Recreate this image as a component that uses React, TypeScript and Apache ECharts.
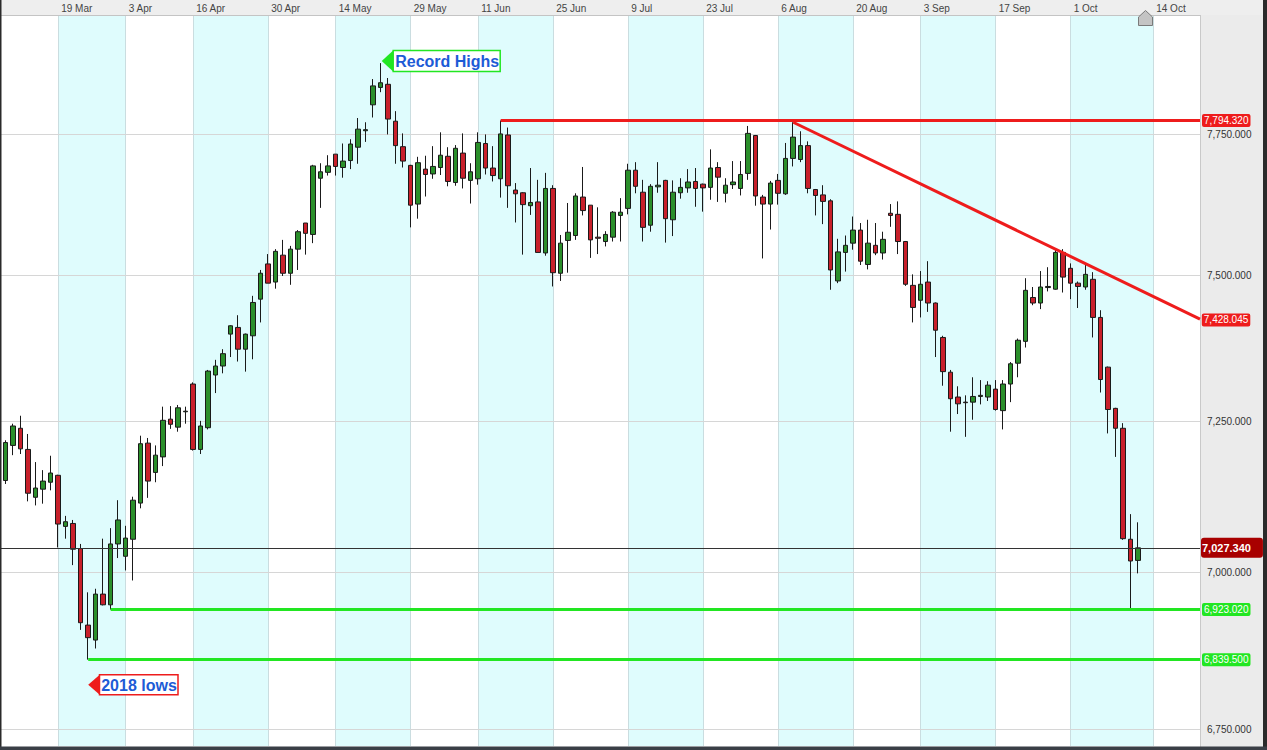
import React, { useEffect, useRef } from 'react';
import * as echarts from 'echarts';

// ---- trading-day slots (last ones after 12 Oct are future calendar slots) ----
const marDays = [8, 9, 12, 13, 14, 15, 16, 19, 20, 21, 22, 23, 26, 27, 28, 29];
const aprDays = [3, 4, 5, 6, 9, 10, 11, 12, 13, 16, 17, 18, 19, 20, 23, 24, 25, 26, 27, 30];
const mayDays = [1, 2, 3, 4, 8, 9, 10, 11, 14, 15, 16, 17, 18, 21, 22, 23, 24, 25, 29, 30, 31];
const junDays = [1, 4, 5, 6, 7, 8, 11, 12, 13, 14, 15, 18, 19, 20, 21, 22, 25, 26, 27, 28, 29];
const julDays = [2, 3, 4, 5, 6, 9, 10, 11, 12, 13, 16, 17, 18, 19, 20, 23, 24, 25, 26, 27, 30, 31];
const augDays = [1, 2, 3, 6, 7, 8, 9, 10, 13, 14, 15, 16, 17, 20, 21, 22, 23, 24, 28, 29, 30, 31];
const sepDays = [3, 4, 5, 6, 7, 10, 11, 12, 13, 14, 17, 18, 19, 20, 21, 24, 25, 26, 27, 28];
const octDays = [1, 2, 3, 4, 5, 8, 9, 10, 11, 12, 13, 14, 15, 16, 17, 18, 19, 20];

const monthBlocks: [string, number[]][] = [
  ['Mar', marDays], ['Apr', aprDays], ['May', mayDays], ['Jun', junDays],
  ['Jul', julDays], ['Aug', augDays], ['Sep', sepDays], ['Oct', octDays],
];
const slotLabels: string[] = monthBlocks.flatMap(([m, ds]) => ds.map((d) => `${d} ${m}`));

const tickLabels = ['19 Mar', '3 Apr', '16 Apr', '30 Apr', '14 May', '29 May', '11 Jun', '25 Jun',
  '9 Jul', '23 Jul', '6 Aug', '20 Aug', '3 Sep', '17 Sep', '1 Oct', '14 Oct'];
const gridTicks = [7750, 7500, 7250, 7000, 6750];

// ---- OHLC ----
const opens = [
  7143, 7204, 7234, 7197, 7114, 7128, 7140, 7152, 7064, 7069,
  7026, 6897, 6872, 6949, 6931, 7034, 7013, 7042, 7104, 7208,
  7157, 7184, 7250, 7236, 7263, 7312, 7197, 7235, 7328, 7344,
  7401, 7413, 7374, 7398, 7464, 7528, 7495, 7544, 7511, 7555,
  7603, 7582, 7686, 7697, 7731, 7706, 7719, 7744, 7775, 7824,
  7857, 7863, 7793, 7745, 7710, 7638, 7703, 7694, 7706, 7727,
  7678, 7733, 7682, 7685, 7751, 7705, 7685, 7767, 7664, 7659,
  7635, 7642, 7548, 7667, 7511, 7571, 7580, 7651, 7636, 7577,
  7569, 7577, 7617, 7630, 7701, 7660, 7599, 7670, 7682, 7609,
  7659, 7668, 7680, 7675, 7669, 7706, 7658, 7674, 7667, 7695,
  7766, 7651, 7638, 7682, 7657, 7723, 7721, 7747, 7665, 7655,
  7644, 7497, 7549, 7566, 7590, 7527, 7562, 7548, 7621, 7619,
  7569, 7489, 7462, 7495, 7457, 7395, 7333, 7289, 7280, 7280,
  7290, 7289, 7303, 7265, 7312, 7349, 7388, 7467, 7457, 7485,
  7482, 7549, 7520, 7493, 7486, 7500, 7431, 7342, 7269, 7234,
  7042, 7006,
];
const highs = [
  7213, 7242, 7256, 7224, 7175, 7161, 7186, 7153, 7082, 7075,
  7034, 6952, 6958, 7043, 7061, 7109, 7065, 7115, 7221, 7217,
  7204, 7272, 7273, 7275, 7272, 7315, 7247, 7337, 7355, 7374,
  7417, 7435, 7402, 7470, 7517, 7546, 7555, 7572, 7561, 7590,
  7603, 7711, 7714, 7729, 7731, 7751, 7759, 7799, 7791, 7873,
  7903.5, 7875, 7812, 7770, 7711, 7726, 7728, 7746, 7772, 7744,
  7748, 7770, 7714, 7772, 7768, 7746, 7794.32, 7781, 7677, 7660,
  7705, 7683, 7696, 7673, 7581, 7640, 7658, 7707, 7636, 7632,
  7588, 7625, 7649, 7713, 7716, 7683, 7675, 7716, 7683, 7682,
  7686, 7703, 7705, 7676, 7740, 7716, 7686, 7718, 7718, 7784,
  7767, 7655, 7681, 7694, 7752, 7791, 7774, 7755, 7666, 7673,
  7647, 7574, 7580, 7615, 7603, 7609, 7603, 7587, 7638, 7643,
  7570, 7509, 7515, 7533, 7458, 7398, 7337, 7308, 7292, 7324,
  7319, 7317, 7319, 7319, 7351, 7393, 7502, 7486, 7515, 7522,
  7555, 7555, 7529, 7496, 7529, 7513, 7444, 7343, 7270, 7243,
  7085, 7071,
];
const lows = [
  7137, 7187, 7189, 7107, 7100, 7103, 7126, 7028, 7043, 6998,
  6889, 6839.5, 6858, 6930, 6923.02, 7010, 6989, 6972, 7095, 7113,
  7140, 7168, 7233, 7228, 7242, 7195, 7189, 7232, 7296, 7331,
  7360, 7352, 7334, 7356, 7422, 7493, 7483, 7506, 7490, 7517,
  7545, 7566, 7631, 7691, 7691, 7687, 7703, 7713, 7754, 7800,
  7848, 7768, 7713, 7706, 7595, 7611, 7652, 7685, 7692, 7671,
  7672, 7667, 7639, 7674, 7693, 7680, 7650, 7631, 7604, 7545,
  7618, 7549, 7543, 7487, 7497, 7512, 7572, 7617, 7539, 7546,
  7560, 7569, 7569, 7619, 7658, 7569, 7587, 7659, 7567, 7579,
  7648, 7659, 7633, 7624, 7646, 7642, 7641, 7666, 7654, 7683,
  7635, 7538, 7591, 7637, 7655, 7708, 7716, 7658, 7617, 7601,
  7481, 7493, 7514, 7554, 7526, 7518, 7544, 7536, 7596, 7546,
  7488, 7422, 7431, 7441, 7360, 7309, 7228, 7259, 7219, 7249,
  7276, 7282, 7265, 7232, 7280, 7324, 7377, 7453, 7446, 7478,
  7481, 7476, 7464, 7448, 7481, 7395, 7297, 7225, 7184, 7041,
  6923.02, 6984,
];
const closes = [
  7209, 7238, 7198, 7121, 7130, 7142, 7156, 7068, 7072, 7025,
  6901, 6876, 6949, 6931, 7034, 7075, 7044, 7109, 7207, 7142,
  7187, 7248, 7241, 7270, 7264, 7197, 7238, 7335, 7344, 7366,
  7416, 7374, 7401, 7458, 7511, 7493, 7551, 7511, 7555, 7587,
  7584, 7709, 7698, 7709, 7708, 7718, 7750, 7778, 7777, 7860,
  7866, 7797, 7747, 7718, 7636, 7715, 7693, 7708, 7729, 7680,
  7742, 7686, 7698, 7753, 7705, 7691, 7769, 7672, 7657, 7637,
  7641, 7549, 7667, 7512, 7566, 7586, 7653, 7626, 7572, 7575,
  7582, 7623, 7623, 7701, 7671, 7595, 7671, 7673, 7611, 7660,
  7669, 7679, 7667, 7668, 7705, 7688, 7673, 7679, 7693, 7770,
  7653, 7638, 7677, 7658, 7723, 7763, 7747, 7667, 7654, 7643,
  7517, 7550, 7562, 7590, 7533, 7566, 7548, 7573, 7617, 7569,
  7491, 7449, 7491, 7457, 7408, 7334, 7286, 7277, 7279, 7290,
  7292, 7310, 7267, 7312, 7348, 7390, 7480, 7457, 7486, 7487,
  7549, 7504, 7493, 7487, 7509, 7431, 7320, 7267, 7234, 7043,
  7005, 7027.34,
];

// ---- annotation levels ----
const resistanceLevel = 7794.32;
const resistanceStart = 66;
const trendStart = 105;
const trendStartValue = 7791;
const trendEndValue = 7428.045;
const support1Level = 6923.02;
const support1Start = 14;
const support2Level = 6839.5;
const support2Start = 11;
const lastPrice = 7027.34;
const recordHighIndex = 50;
const recordHighValue = 7903.5;
const yearLowIndex = 11;
const yearLowValue = 6839.5;

// ---- axis ranges (price axis is logarithmic) ----
const priceTop = 7996.2;
const priceBottom = 6697.8;
const gridTop = 7967.8;
const gridBottom = 6723.4;
const xMin = -0.76;
const xMax = 159.24;

const FONT = '"Liberation Sans", Arial, sans-serif';
const RED = '#ee1c1c';
const GREEN = '#22e622';

const ln = Math.log;
const fmt = (v: number) =>
  v.toLocaleString('en-US', { minimumFractionDigits: 3, maximumFractionDigits: 3 });

export default function App() {
  const ref = useRef<HTMLDivElement>(null);

  useEffect(() => {
    document.body.style.margin = '0';
    const chart = echarts.init(ref.current!, undefined, { renderer: 'svg' });

    const tickIdx = tickLabels.map((t) => slotLabels.indexOf(t));
    const gridTickLn = gridTicks.map((v) => ln(v));
    const candles = opens.map((o, i) => [i, ln(o), ln(closes[i]), ln(lows[i]), ln(highs[i])]);

    const endLabel = (bg: string) => ({
      show: true,
      position: 'end',
      formatter: '{b}',
      color: '#fff',
      backgroundColor: bg,
      padding: [2, 2, 1, 2],
      borderRadius: 2,
      fontSize: 10,
      fontFamily: FONT,
      distance: 2,
    });

    const option: any = {
      animation: false,
      backgroundColor: '#ffffff',
      textStyle: { fontFamily: FONT },
      grid: { left: 0, top: 15, width: 1200, height: 731, containLabel: false },
      xAxis: {
        type: 'value',
        position: 'top',
        min: xMin,
        max: xMax,
        axisLine: { show: true, lineStyle: { color: '#c4c4c4' } },
        axisTick: { show: false, customValues: tickIdx },
        axisLabel: {
          customValues: tickIdx,
          formatter: (v: number) => slotLabels[Math.round(v)],
          color: '#444',
          fontSize: 10,
          fontFamily: FONT,
          align: 'left',
          margin: 2,
          padding: [0, 0, 0, 3],
        },
        splitLine: { show: true, lineStyle: { color: '#cadde0', width: 1 } },
        splitArea: { show: true, areaStyle: { color: ['#dffcfd', 'rgba(255,255,255,0)'] } },
      },
      yAxis: [
        {
          type: 'value',
          show: false,
          min: ln(priceBottom),
          max: ln(priceTop),
          splitLine: { show: false },
        },
        {
          type: 'value',
          position: 'right',
          z: 1,
          min: ln(gridBottom),
          max: ln(gridTop),
          axisLine: { show: false },
          axisTick: { show: false, customValues: gridTickLn },
          axisLabel: {
            customValues: gridTickLn,
            formatter: (v: number) => fmt(Math.round(Math.exp(v))),
            color: '#333',
            fontSize: 10,
            fontFamily: FONT,
            margin: 7,
          },
          splitLine: { show: true, lineStyle: { color: '#d6d6d6', width: 1 } },
        },
      ],
      series: [
        {
          type: 'candlestick',
          xAxisIndex: 0,
          yAxisIndex: 0,
          clip: false,
          data: candles,
          encode: { x: 0, y: [1, 2, 3, 4] },
          barWidth: 5,
          itemStyle: {
            color: '#2b8f2b',
            color0: '#c8202b',
            borderColor: '#1a1a1a',
            borderColor0: '#1a1a1a',
            borderWidth: 1,
          },
          markLine: {
            silent: true,
            symbol: ['none', 'none'],
            animation: false,
            data: [
              [
                {
                  name: fmt(lastPrice),
                  coord: [xMin, ln(lastPrice)],
                  lineStyle: { color: '#333', width: 1, type: 'solid' },
                  label: {
                    show: true,
                    position: 'end',
                    formatter: '{b}',
                    color: '#fff',
                    fontWeight: 'bold',
                    fontSize: 11,
                    fontFamily: FONT,
                    backgroundColor: '#a80000',
                    padding: [5, 12, 4, 1],
                    borderRadius: 3,
                    distance: 1,
                  },
                },
                { coord: [xMax, ln(lastPrice)] },
              ],
              [
                {
                  name: fmt(resistanceLevel),
                  coord: [resistanceStart, ln(resistanceLevel)],
                  lineStyle: { color: RED, width: 3, type: 'solid' },
                  label: endLabel(RED),
                },
                { coord: [xMax, ln(resistanceLevel)] },
              ],
              [
                {
                  name: fmt(trendEndValue),
                  coord: [trendStart, ln(trendStartValue)],
                  lineStyle: { color: RED, width: 3, type: 'solid' },
                  label: endLabel(RED),
                },
                { coord: [xMax, ln(trendEndValue)] },
              ],
              [
                {
                  name: fmt(support1Level),
                  coord: [support1Start, ln(support1Level)],
                  lineStyle: { color: GREEN, width: 3, type: 'solid' },
                  label: endLabel(GREEN),
                },
                { coord: [xMax, ln(support1Level)] },
              ],
              [
                {
                  name: fmt(support2Level),
                  coord: [support2Start, ln(support2Level)],
                  lineStyle: { color: GREEN, width: 3, type: 'solid' },
                  label: endLabel(GREEN),
                },
                { coord: [xMax, ln(support2Level)] },
              ],
            ],
          },
        },
      ],
      graphic: [
        { id: 'topband', type: 'rect', z: -1, silent: true, shape: { x: 0, y: 0, width: 1267, height: 15 }, style: { fill: '#eeeeee' } },
        { id: 'panel', type: 'rect', z: -1, silent: true, shape: { x: 1200, y: 15, width: 63, height: 735 }, style: { fill: '#ebebeb' } },
        { id: 'panelEdge', type: 'rect', z: -1, silent: true, shape: { x: 1200, y: 15, width: 1, height: 735 }, style: { fill: '#c9c9c9' } },
        { id: 'rightEdge', type: 'rect', z: -1, silent: true, shape: { x: 1263, y: 0, width: 4, height: 750 }, style: { fill: '#2a2a2a' } },
        { id: 'leftEdge', type: 'rect', z: 10, silent: true, shape: { x: 0, y: 0, width: 1.5, height: 750 }, style: { fill: '#2a2a2a' } },
        { id: 'bottomEdge', type: 'rect', z: 10, silent: true, shape: { x: 0, y: 746.5, width: 1267, height: 3.5 }, style: { fill: '#3a3f46' } },
        {
          id: 'home', type: 'polygon', z: 10, silent: true,
          shape: { points: [[1145.5, 10.5], [1152.5, 17], [1152.5, 25.5], [1138.5, 25.5], [1138.5, 17]] },
          style: { fill: '#c4c4c4', stroke: '#7a7a7a', lineWidth: 1 },
        },
      ],
    };

    chart.setOption(option);

    const hp = chart.convertToPixel({ seriesIndex: 0 }, [recordHighIndex, ln(recordHighValue)]) as number[];
    const lp = chart.convertToPixel({ seriesIndex: 0 }, [yearLowIndex, ln(yearLowValue)]) as number[];
    const hx = hp[0] + 1, hy = hp[1] - 2;
    const lx = lp[0], ly = lp[1] + 25;

    chart.setOption({
      graphic: [
        {
          id: 'hiTri', type: 'polygon', z: 20, silent: true,
          shape: { points: [[hx, hy], [hx + 12, hy - 11], [hx + 12, hy + 11]] },
          style: { fill: GREEN },
        },
        {
          id: 'hiBox', type: 'rect', z: 20, silent: true,
          shape: { x: hx + 11.5, y: hy - 10.5, width: 107, height: 21 },
          style: { fill: '#ffffff', stroke: GREEN, lineWidth: 1.5 },
        },
        {
          id: 'hiText', type: 'text', z: 21, silent: true, x: hx + 13.5, y: hy + 0.5,
          style: { text: 'Record Highs', fill: '#1d5bd6', font: `bold 16px ${FONT}`, verticalAlign: 'middle', align: 'left' },
        },
        {
          id: 'loTri', type: 'polygon', z: 20, silent: true,
          shape: { points: [[lx, ly], [lx + 11.5, ly - 10], [lx + 11.5, ly + 10]] },
          style: { fill: RED },
        },
        {
          id: 'loBox', type: 'rect', z: 20, silent: true,
          shape: { x: lx + 11.3, y: ly - 10, width: 78.5, height: 20 },
          style: { fill: '#ffffff', stroke: RED, lineWidth: 1.5 },
        },
        {
          id: 'loText', type: 'text', z: 21, silent: true, x: lx + 13, y: ly + 0.5,
          style: { text: '2018 lows', fill: '#1d5bd6', font: `bold 16px ${FONT}`, verticalAlign: 'middle', align: 'left' },
        },
      ],
    });

    return () => chart.dispose();
  }, []);

  return <div ref={ref} style={{ position: 'fixed', left: 0, top: 0, width: 1267, height: 750 }} />;
}
